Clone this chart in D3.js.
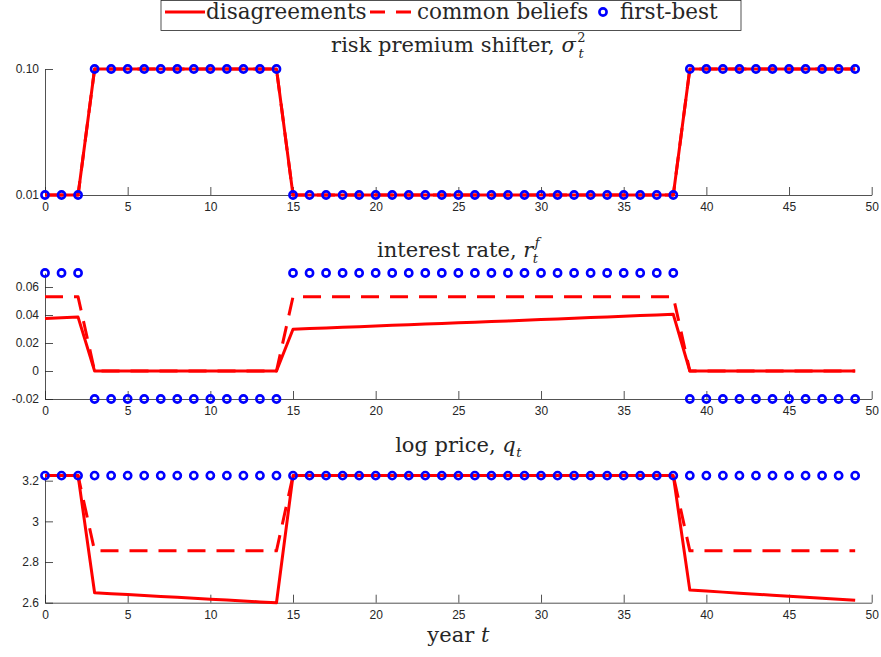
<!DOCTYPE html>
<html>
<head>
<meta charset="utf-8">
<script src="https://cdn.jsdelivr.net/npm/d3@7"></script>
<style>
  body { margin: 0; background: #fff; }
  svg text { fill: #262626; }
</style>
</head>
<body>
<div id="chart"></div>
<script>
// years on the x axis
const years = [0,1,2,3,4,5,6,7,8,9,10,11,12,13,14,15,16,17,18,19,20,21,22,23,24,
               25,26,27,28,29,30,31,32,33,34,35,36,37,38,39,40,41,42,43,44,45,46,47,48,49];
const xTicks = [0,5,10,15,20,25,30,35,40,45,50];
const xTickLabels = ["0","5","10","15","20","25","30","35","40","45","50"];

// risk premium shifter (same for all three cases)
const sigmaDis = [0.01,0.01,0.01, 0.1,0.1,0.1,0.1,0.1,0.1,0.1,0.1,0.1,0.1,0.1,0.1,
                  0.01,0.01,0.01,0.01,0.01,0.01,0.01,0.01,0.01,0.01,0.01,0.01,
                  0.01,0.01,0.01,0.01,0.01,0.01,0.01,0.01,0.01,0.01,0.01,0.01,
                  0.1,0.1,0.1,0.1,0.1,0.1,0.1,0.1,0.1,0.1,0.1];
const sigmaCom = sigmaDis.slice();
const sigmaFB  = sigmaDis.slice();
const sigmaTicks = [0.01, 0.10];
const sigmaTickLabels = ["0.01", "0.10"];

// interest rate
const rDis = [0.0375,0.038,0.0385, 0,0,0,0,0,0,0,0,0,0,0,0,
              0.0298,0.0303,0.0307,0.0312,0.0316,0.0321,0.0326,0.0330,0.0335,0.0340,0.0344,0.0349,
              0.0354,0.0358,0.0363,0.0368,0.0372,0.0377,0.0382,0.0386,0.0391,0.0396,0.0400,0.0405,
              0,0,0,0,0,0,0,0,0,0,0];
const rCom = [0.053,0.053,0.053, 0,0,0,0,0,0,0,0,0,0,0,0,
              0.053,0.053,0.053,0.053,0.053,0.053,0.053,0.053,0.053,0.053,0.053,0.053,
              0.053,0.053,0.053,0.053,0.053,0.053,0.053,0.053,0.053,0.053,0.053,0.053,
              0,0,0,0,0,0,0,0,0,0,0];
const rFB  = [0.07,0.07,0.07, -0.02,-0.02,-0.02,-0.02,-0.02,-0.02,-0.02,-0.02,-0.02,-0.02,-0.02,-0.02,
              0.07,0.07,0.07,0.07,0.07,0.07,0.07,0.07,0.07,0.07,0.07,0.07,
              0.07,0.07,0.07,0.07,0.07,0.07,0.07,0.07,0.07,0.07,0.07,0.07,
              -0.02,-0.02,-0.02,-0.02,-0.02,-0.02,-0.02,-0.02,-0.02,-0.02,-0.02];
const rTicks = [-0.02, 0, 0.02, 0.04, 0.06];
const rTickLabels = ["-0.02", "0", "0.02", "0.04", "0.06"];

// log price
const qDis = [3.225,3.225,3.225,
              2.649,2.6445,2.640,2.6355,2.631,2.6265,2.622,2.6175,2.613,2.6085,2.604,2.600,
              3.225,3.225,3.225,3.225,3.225,3.225,3.225,3.225,3.225,3.225,3.225,3.225,
              3.225,3.225,3.225,3.225,3.225,3.225,3.225,3.225,3.225,3.225,3.225,3.225,
              2.662,2.657,2.652,2.647,2.642,2.637,2.632,2.627,2.622,2.617,2.612];
const qCom = [3.225,3.225,3.225,
              2.855,2.855,2.855,2.855,2.855,2.855,2.855,2.855,2.855,2.855,2.855,2.855,
              3.225,3.225,3.225,3.225,3.225,3.225,3.225,3.225,3.225,3.225,3.225,3.225,
              3.225,3.225,3.225,3.225,3.225,3.225,3.225,3.225,3.225,3.225,3.225,3.225,
              2.855,2.855,2.855,2.855,2.855,2.855,2.855,2.855,2.855,2.855,2.855];
const qFB  = [3.225,3.225,3.225,3.225,3.225,3.225,3.225,3.225,3.225,3.225,
              3.225,3.225,3.225,3.225,3.225,3.225,3.225,3.225,3.225,3.225,
              3.225,3.225,3.225,3.225,3.225,3.225,3.225,3.225,3.225,3.225,
              3.225,3.225,3.225,3.225,3.225,3.225,3.225,3.225,3.225,3.225,
              3.225,3.225,3.225,3.225,3.225,3.225,3.225,3.225,3.225,3.225];
const qTicks = [2.6, 2.8, 3, 3.2];
const qTickLabels = ["2.6", "2.8", "3", "3.2"];

const legendLabels = ["disagreements", "common beliefs", "first-best"];

// layout
const W = 881, H = 657;
const left = 45, right = 871.7;
const red = "#ff0000", blue = "#0000ff", axisColor = "#262626";
const serif = "'DejaVu Serif', serif";
const sans = "'Liberation Sans', Arial, sans-serif";

const panels = [
  { top: 69,  bottom: 195,   domain: [0.01, 0.10], ticks: sigmaTicks, labels: sigmaTickLabels,
    dis: sigmaDis, com: sigmaCom, fb: sigmaFB, titleY: 52,
    title: [["risk premium shifter, ", {}], ["σ", {italic: true}], ["2", {sup: true}], ["t", {italic: true, subBack: true}]] },
  { top: 273, bottom: 399,   domain: [-0.02, 0.07], ticks: rTicks, labels: rTickLabels,
    dis: rDis, com: rCom, fb: rFB, titleY: 257,
    title: [["interest rate, ", {}], ["r", {italic: true}], ["f", {italic: true, sup: true}], ["t", {italic: true, subBack: true}]] },
  { top: 475.6, bottom: 602.7, domain: [2.6, 3.225], ticks: qTicks, labels: qTickLabels,
    dis: qDis, com: qCom, fb: qFB, titleY: 452,
    title: [["log price, ", {}], ["q", {italic: true}], ["t", {italic: true, sub: true}]] }
];

const x = d3.scaleLinear().domain([0, 50]).range([left, right]);

const svg = d3.create("svg")
    .attr("width", W)
    .attr("height", H)
    .attr("viewBox", `0 0 ${W} ${H}`);

// draw each panel
panels.forEach(p => {
  const y = d3.scaleLinear().domain(p.domain).range([p.bottom, p.top]);

  // x axis, ticks pointing in
  const gx = svg.append("g")
      .attr("transform", `translate(0,${p.bottom})`)
      .call(d3.axisBottom(x).tickValues(xTicks).tickFormat((d, i) => xTickLabels[i])
              .tickSizeInner(-8).tickSizeOuter(0).tickPadding(5));
  // y axis
  const gy = svg.append("g")
      .attr("transform", `translate(${left},0)`)
      .call(d3.axisLeft(y).tickValues(p.ticks).tickFormat((d, i) => p.labels[i])
              .tickSizeInner(-8).tickSizeOuter(0).tickPadding(6));

  [gx, gy].forEach(g => {
    g.select(".domain").attr("stroke", axisColor).attr("stroke-width", 0.8);
    g.selectAll(".tick line").attr("stroke", axisColor).attr("stroke-width", 0.8);
    g.selectAll(".tick text").attr("font-family", sans).attr("font-size", 12).attr("fill", axisColor);
  });
  gx.selectAll(".tick text").attr("dy", "0.95em");

  const line = d3.line().x((d, i) => x(years[i])).y(d => y(d));

  svg.append("path")
     .attr("d", line(p.dis))
     .attr("fill", "none")
     .attr("stroke", red)
     .attr("stroke-width", 3)
     .attr("stroke-linejoin", "round");

  svg.append("path")
     .attr("d", line(p.com))
     .attr("fill", "none")
     .attr("stroke", red)
     .attr("stroke-width", 3)
     .attr("stroke-dasharray", "18,11")
     .attr("stroke-linejoin", "round");

  svg.append("g")
     .selectAll("circle")
     .data(p.fb)
     .join("circle")
     .attr("cx", (d, i) => x(years[i]))
     .attr("cy", d => y(d))
     .attr("r", 3.6)
     .attr("fill", "none")
     .attr("stroke", blue)
     .attr("stroke-width", 2.6);

  // title with math parts
  const t = svg.append("text")
      .attr("x", (left + right) / 2)
      .attr("y", p.titleY)
      .attr("text-anchor", "middle")
      .attr("font-family", serif)
      .attr("font-size", 21)
      .attr("fill", "#000");
  p.title.forEach(([str, o]) => {
    const ts = t.append("tspan").text(str);
    if (o.italic) ts.attr("font-style", "italic");
    if (o.sup) ts.attr("font-size", 13).attr("dx", 1.5).attr("dy", -10);
    if (o.sub) ts.attr("font-size", 13).attr("dx", 0.5).attr("dy", 5);
    if (o.subBack) ts.attr("font-size", 13).attr("dx", -7).attr("dy", 16);
  });
});

// x label
const xl = svg.append("text")
    .attr("x", (left + right) / 2)
    .attr("y", 642)
    .attr("text-anchor", "middle")
    .attr("font-family", serif)
    .attr("font-size", 21)
    .attr("fill", "#000");
xl.append("tspan").text("year ");
xl.append("tspan").attr("font-style", "italic").text("t");

// legend
const lg = svg.append("g");
lg.append("rect")
  .attr("x", 161).attr("y", 0.5)
  .attr("width", 580).attr("height", 30)
  .attr("fill", "#fff")
  .attr("stroke", axisColor)
  .attr("stroke-width", 0.8);

lg.append("line").attr("x1", 165).attr("x2", 205).attr("y1", 12).attr("y2", 12)
  .attr("stroke", red).attr("stroke-width", 3);
lg.append("line").attr("x1", 370).attr("x2", 414).attr("y1", 12).attr("y2", 12)
  .attr("stroke", red).attr("stroke-width", 3).attr("stroke-dasharray", "15,11");
lg.append("circle").attr("cx", 603).attr("cy", 12).attr("r", 3.6)
  .attr("fill", "none").attr("stroke", blue).attr("stroke-width", 2.6);

const legendX = [206, 417, 620];
legendLabels.forEach((s, i) => {
  lg.append("text")
    .attr("x", legendX[i]).attr("y", 19)
    .attr("font-family", serif)
    .attr("font-size", 21.5)
    .attr("fill", "#000")
    .text(s);
});

document.getElementById("chart").appendChild(svg.node());
</script>
</body>
</html>
